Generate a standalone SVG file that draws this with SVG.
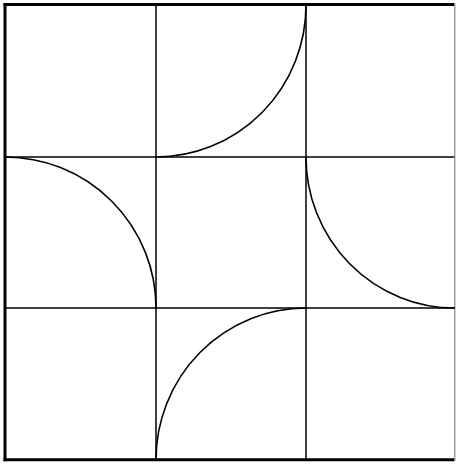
<svg xmlns="http://www.w3.org/2000/svg" width="456" height="466" viewBox="0 0 456 466">
  <style>
    .border { stroke: #000; stroke-width: 3; fill: none; stroke-linecap: square; }
    .grid { stroke: #000; stroke-width: 1.5; fill: none; }
    .arc { stroke: #000; stroke-width: 1.6; fill: none; }
  </style>
  <rect width="456" height="466" fill="#fff"/>
  <g id="grid">
    <line class="grid" x1="156" y1="5" x2="156" y2="460"/>
    <line class="grid" x1="306" y1="5" x2="306" y2="460"/>
    <line class="grid" x1="5" y1="157" x2="455" y2="157"/>
    <line class="grid" x1="5" y1="308" x2="455" y2="308"/>
  </g>
  <g id="border">
    <line class="border" x1="5" y1="4.5" x2="453" y2="4.5"/>
    <line class="border" x1="5" y1="4.5" x2="5" y2="459.8"/>
    <line class="border" x1="5" y1="459.8" x2="453" y2="459.8"/>
    <line x1="454.8" y1="3" x2="454.8" y2="461" stroke="#888" stroke-width="1.2"/>
  </g>
  <g id="arcs">
    <path class="arc" d="M306,5 A150,152 0 0 1 156,157"/>
    <path class="arc" d="M5,157 A151,151 0 0 1 156,308"/>
    <path class="arc" d="M306,157 A149,151 0 0 0 455,308"/>
    <path class="arc" d="M156,460 A150,152 0 0 1 306,308"/>
  </g>
</svg>
